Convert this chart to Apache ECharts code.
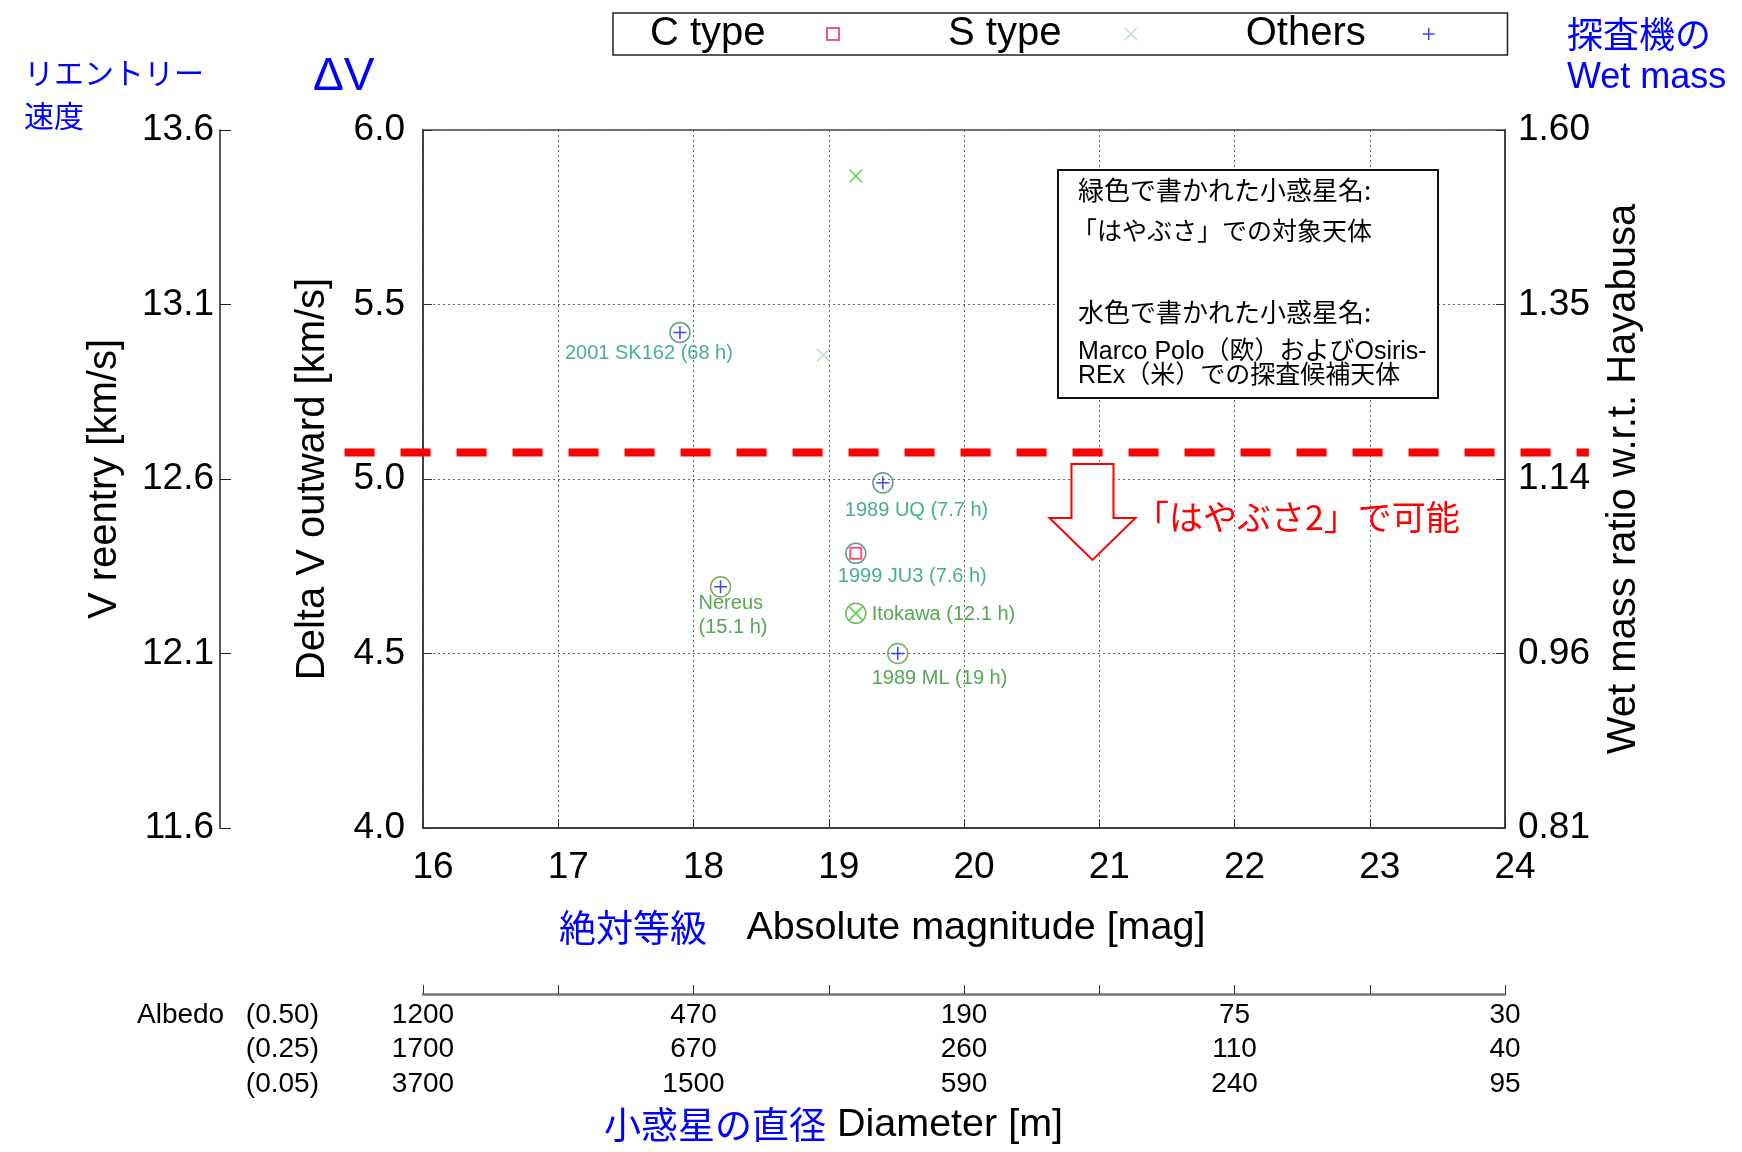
<!DOCTYPE html>
<html><head><meta charset="utf-8">
<script src="https://cdn.jsdelivr.net/npm/echarts@6/dist/echarts.min.js"></script>
<style>html,body{margin:0;padding:0;background:#fff}#c{width:1742px;height:1152px}</style>
</head><body><div id="c"></div>
<script>
// ---------------- data ----------------
const magRange = [16, 24];
const deltaVRange = [4.0, 6.0];
const reentryTicks = ['11.6', '12.1', '12.6', '13.1', '13.6'];
const wetMassTicks = ['0.81', '0.96', '1.14', '1.35', '1.60'];
const diamMags = [16, 18, 20, 22, 24];
const diam050 = ['1200', '470', '190', '75', '30'];
const diam025 = ['1700', '670', '260', '110', '40'];
const diam005 = ['3700', '1500', '590', '240', '95'];
const albedoLabels = ['(0.50)', '(0.25)', '(0.05)'];

const cTypePts = [[19.20, 4.787]];
const sTypePts = [[19.20, 5.868], [19.20, 4.615]];
const sTypeFaintPts = [[18.96, 5.355]];
const othersPts = [[17.90, 5.420], [19.40, 4.989], [18.20, 4.691], [19.51, 4.500]];

const candidateNames = ['2001 SK162 (68 h)', '1989 UQ (7.7 h)', '1999 JU3 (7.6 h)'];
const candidatePts = [[17.90, 5.420], [19.40, 4.989], [19.20, 4.787]];
const targetNames = ['Nereus\n(15.1 h)', 'Itokawa (12.1 h)', '1989 ML (19 h)'];
const targetPts = [[18.20, 4.691], [19.20, 4.615], [19.51, 4.500]];

const hayabusa2Limit = 5.076;
const limitSpan = [15.42, 24.62];
const arrowPts = [[20.95, 5.043, 4.888, 4.768]]; // x, top, head base, tip

// ---------------- styles ----------------
const LAT = "'Liberation Sans', 'Noto Sans CJK JP', sans-serif";
const CJK = "'Noto Sans CJK JP', 'Liberation Sans', sans-serif";
const BLUE = '#0000ff';
const candidateLabelOffsets = [[-115, 21], [-38, 28], [-18, 23]];
const targetLabelOffsets = [[-22, 29], [16, 1], [-26, 25]];
const plusPath = 'path://M6,0L6,12M0,6L12,6';
const crossPath = 'path://M0,0L12,12M12,0L0,12';

function ringSeries(name, pts, names, offsets, ringColor, textColor) {
  return {
    name: name, type: 'scatter', xAxisIndex: 0, yAxisIndex: 0, z: 3, silent: true,
    symbol: 'circle', symbolSize: 20,
    itemStyle: { color: 'rgba(255,255,255,0)', borderColor: ringColor, borderWidth: 1.5 },
    label: { show: true, position: 'inside', align: 'left', verticalAlign: 'middle',
      formatter: '{b}', color: textColor, fontSize: 20, lineHeight: 24, fontFamily: LAT },
    data: pts.map((p, i) => ({ value: p, name: names[i], label: { offset: offsets[i] } }))
  };
}

const tickLabelStyle = { fontSize: 37, fontFamily: LAT, color: '#000' };
const nameStyle = { fontSize: 40, fontFamily: LAT, color: '#000' };
const dotted = { show: true, lineStyle: { type: [2, 3], color: '#666', width: 1 } };

const chart = echarts.init(document.getElementById('c'), null, { renderer: 'canvas' });
chart.setOption({
  backgroundColor: '#fff',
  animation: false,
  grid: { left: 423, top: 130, width: 1082, height: 698, show: true, borderColor: '#444', borderWidth: 1.5, containLabel: false },
  legend: {
    data: ['C type', 'S type', 'Others'],
    left: 613, top: 13, orient: 'horizontal', align: 'right',
    padding: [1, 72, 1, 37], itemGap: 108, itemWidth: 12, itemHeight: 12,
    borderColor: '#222', borderWidth: 1.5, backgroundColor: '#fff',
    selectedMode: false,
    formatter: '{t|{name}}',
    itemStyle: { borderWidth: 1.5 },
    textStyle: { fontSize: 40, fontFamily: LAT, color: '#000',
      rich: { t: { width: 172, align: 'left', fontSize: 40, fontFamily: LAT, lineHeight: 40, color: '#000' } } }
  },
  xAxis: [
    { type: 'value', min: magRange[0], max: magRange[1], interval: 1, position: 'bottom',
      axisLine: { show: true, onZero: false, lineStyle: { color: '#333', width: 1.5 } },
      axisTick: { show: true, inside: true, length: 9, lineStyle: { color: '#333' } },
      axisLabel: Object.assign({ margin: 21, padding: [0, 0, 0, 20], formatter: v => String(v) }, tickLabelStyle),
      splitLine: dotted },
    { type: 'value', min: magRange[0], max: magRange[1], interval: 1, position: 'bottom', offset: 166,
      axisLine: { show: true, onZero: false, lineStyle: { color: '#777', width: 2.5 } },
      axisTick: { show: true, inside: true, length: 9, lineStyle: { color: '#333', width: 1 } },
      axisLabel: { fontSize: 28, lineHeight: 34.5, margin: 4, fontFamily: LAT, color: '#000',
        formatter: v => { const i = diamMags.indexOf(v); return i < 0 ? '' : [diam050[i], diam025[i], diam005[i]].join('\n'); } },
      splitLine: { show: false } }
  ],
  yAxis: [
    { type: 'value', min: deltaVRange[0], max: deltaVRange[1], interval: 0.5, position: 'left',
      axisLine: { show: true, onZero: false, lineStyle: { color: '#333', width: 1.5 } },
      axisTick: { show: true, inside: true, length: 9, lineStyle: { color: '#333' } },
      axisLabel: Object.assign({ margin: 18, formatter: v => v.toFixed(1) }, tickLabelStyle),
      splitLine: dotted,
      name: 'Delta V outward [km/s]', nameLocation: 'middle', nameGap: 90, nameRotate: 90, nameTextStyle: nameStyle },
    { type: 'value', min: 0, max: 4, interval: 1, position: 'left', offset: 203,
      axisLine: { show: true, onZero: false, lineStyle: { color: '#222', width: 1.5 } },
      axisTick: { show: true, inside: true, length: 11, lineStyle: { color: '#222' } },
      axisLabel: Object.assign({ margin: 6, formatter: v => reentryTicks[v] }, tickLabelStyle),
      splitLine: { show: false },
      name: 'V reentry [km/s]', nameLocation: 'middle', nameGap: 95, nameRotate: 90, nameTextStyle: nameStyle },
    { type: 'value', min: 0, max: 4, interval: 1, position: 'right',
      axisLine: { show: true, onZero: false, lineStyle: { color: '#333', width: 1.5 } },
      axisTick: { show: true, inside: true, length: 9, lineStyle: { color: '#333' } },
      axisLabel: Object.assign({ margin: 13, formatter: v => wetMassTicks[v] }, tickLabelStyle),
      splitLine: { show: false },
      name: 'Wet mass ratio w.r.t. Hayabusa', nameLocation: 'middle', nameGap: 99, nameRotate: 90, nameTextStyle: nameStyle }
  ],
  series: [
    ringSeries('candidates', candidatePts, candidateNames, candidateLabelOffsets, '#3a7f7a', '#189a74'),
    ringSeries('targets', targetPts, targetNames, targetLabelOffsets, '#5a9a2a', '#2a8e2a'),
    { name: 'S type', type: 'scatter', z: 4, silent: true, symbol: crossPath, symbolSize: 13,
      itemStyle: { color: 'rgba(0,0,0,0)', borderColor: '#b4d8b4', borderWidth: 1.5 }, data: sTypeFaintPts },
    { name: 'S type', type: 'scatter', z: 4, silent: true, symbol: crossPath, symbolSize: 13,
      itemStyle: { color: 'rgba(0,0,0,0)', borderColor: '#22cc22', borderWidth: 1.5 }, data: sTypePts },
    { name: 'C type', type: 'scatter', z: 4, silent: true, symbol: 'emptyRect', symbolSize: 11,
      itemStyle: { color: '#f0305a', borderWidth: 1.5 }, data: cTypePts },
    { name: 'Others', type: 'scatter', z: 4, silent: true, symbol: plusPath, symbolSize: 13,
      itemStyle: { color: 'rgba(0,0,0,0)', borderColor: '#1010ff', borderWidth: 1.5 }, data: othersPts },
    { name: 'limit', type: 'custom', z: 5, silent: true, clip: false,
      data: [[limitSpan[0], hayabusa2Limit, limitSpan[1]]],
      renderItem: function (params, api) {
        const a = api.coord([api.value(0), api.value(1)]);
        const b = api.coord([api.value(2), api.value(1)]);
        return { type: 'line', shape: { x1: a[0], y1: a[1], x2: b[0], y2: b[1] },
          style: { stroke: '#ff0000', lineWidth: 8, lineDash: [30, 26] } };
      } },
    { name: 'arrow', type: 'custom', z: 4, silent: true, clip: false, data: arrowPts,
      renderItem: function (params, api) {
        const x = api.value(0);
        const top = api.coord([x, api.value(1)]);
        const base = api.coord([x, api.value(2)]);
        const tip = api.coord([x, api.value(3)]);
        const sw = 21, hw = 43, cx = top[0];
        return { type: 'polygon',
          shape: { points: [[cx - sw, top[1]], [cx + sw, top[1]], [cx + sw, base[1]], [cx + hw, base[1]],
            [tip[0], tip[1]], [cx - hw, base[1]], [cx - sw, base[1]]] },
          style: { fill: '#fff', stroke: '#ff0000', lineWidth: 2 } };
      } }
  ],
  graphic: [
    { type: 'text', x: 24, y: 94.5, style: { text: 'リエントリー\n速度', fill: BLUE, fontSize: 30, fontFamily: CJK, lineHeight: 43, verticalAlign: 'middle' } },
    { type: 'text', x: 313, y: 77, style: { text: 'ΔV', fill: BLUE, fontSize: 46, fontFamily: LAT, verticalAlign: 'middle' } },
    { type: 'text', x: 1567, y: 58, style: { text: '探査機の\nWet mass', fill: BLUE, fontSize: 36, fontFamily: LAT, lineHeight: 40, verticalAlign: 'middle' } },
    { type: 'text', x: 559, y: 928, style: { text: '{b|絶対等級}　Absolute magnitude [mag]', fill: '#000', fontSize: 39.5, fontFamily: LAT, verticalAlign: 'middle',
      rich: { b: { fill: BLUE, fontSize: 37, fontFamily: CJK } } } },
    { type: 'text', x: 604, y: 1125, style: { text: '{b|小惑星の直径} Diameter [m]', fill: '#000', fontSize: 39.5, fontFamily: LAT, verticalAlign: 'middle',
      rich: { b: { fill: BLUE, fontSize: 37, fontFamily: CJK } } } },
    { type: 'text', x: 137, y: 1015, style: { text: 'Albedo', fill: '#000', fontSize: 28, fontFamily: LAT, verticalAlign: 'middle' } },
    { type: 'text', x: 319, y: 1015, style: { text: albedoLabels[0], fill: '#000', fontSize: 28, fontFamily: LAT, verticalAlign: 'middle', align: 'right' } },
    { type: 'text', x: 319, y: 1049.5, style: { text: albedoLabels[1], fill: '#000', fontSize: 28, fontFamily: LAT, verticalAlign: 'middle', align: 'right' } },
    { type: 'text', x: 319, y: 1084, style: { text: albedoLabels[2], fill: '#000', fontSize: 28, fontFamily: LAT, verticalAlign: 'middle', align: 'right' } },
    { type: 'rect', z: 100, shape: { x: 1058, y: 170, width: 380, height: 228 }, style: { fill: '#fff', stroke: '#111', lineWidth: 2 } },
    { type: 'text', z: 101, x: 1078, y: 190, style: { text: '緑色で書かれた小惑星名:', fill: '#000', fontSize: 26, fontFamily: CJK, verticalAlign: 'middle' } },
    { type: 'text', z: 101, x: 1072, y: 230, style: { text: '「はやぶさ」での対象天体', fill: '#000', fontSize: 25, fontFamily: CJK, verticalAlign: 'middle' } },
    { type: 'text', z: 101, x: 1078, y: 312, style: { text: '水色で書かれた小惑星名:', fill: '#000', fontSize: 26, fontFamily: CJK, verticalAlign: 'middle' } },
    { type: 'text', z: 101, x: 1078, y: 364.5, style: { text: 'Marco Polo（欧）およびOsiris-\nREx（米）での探査候補天体', fill: '#000', fontSize: 25, fontFamily: LAT, lineHeight: 24, verticalAlign: 'middle' } },
    { type: 'text', z: 101, x: 1135, y: 517, style: { text: '「はやぶさ2」で可能', fill: '#ff0000', fontSize: 34, fontFamily: CJK, verticalAlign: 'middle' } }
  ]
});
</script>
</body></html>
